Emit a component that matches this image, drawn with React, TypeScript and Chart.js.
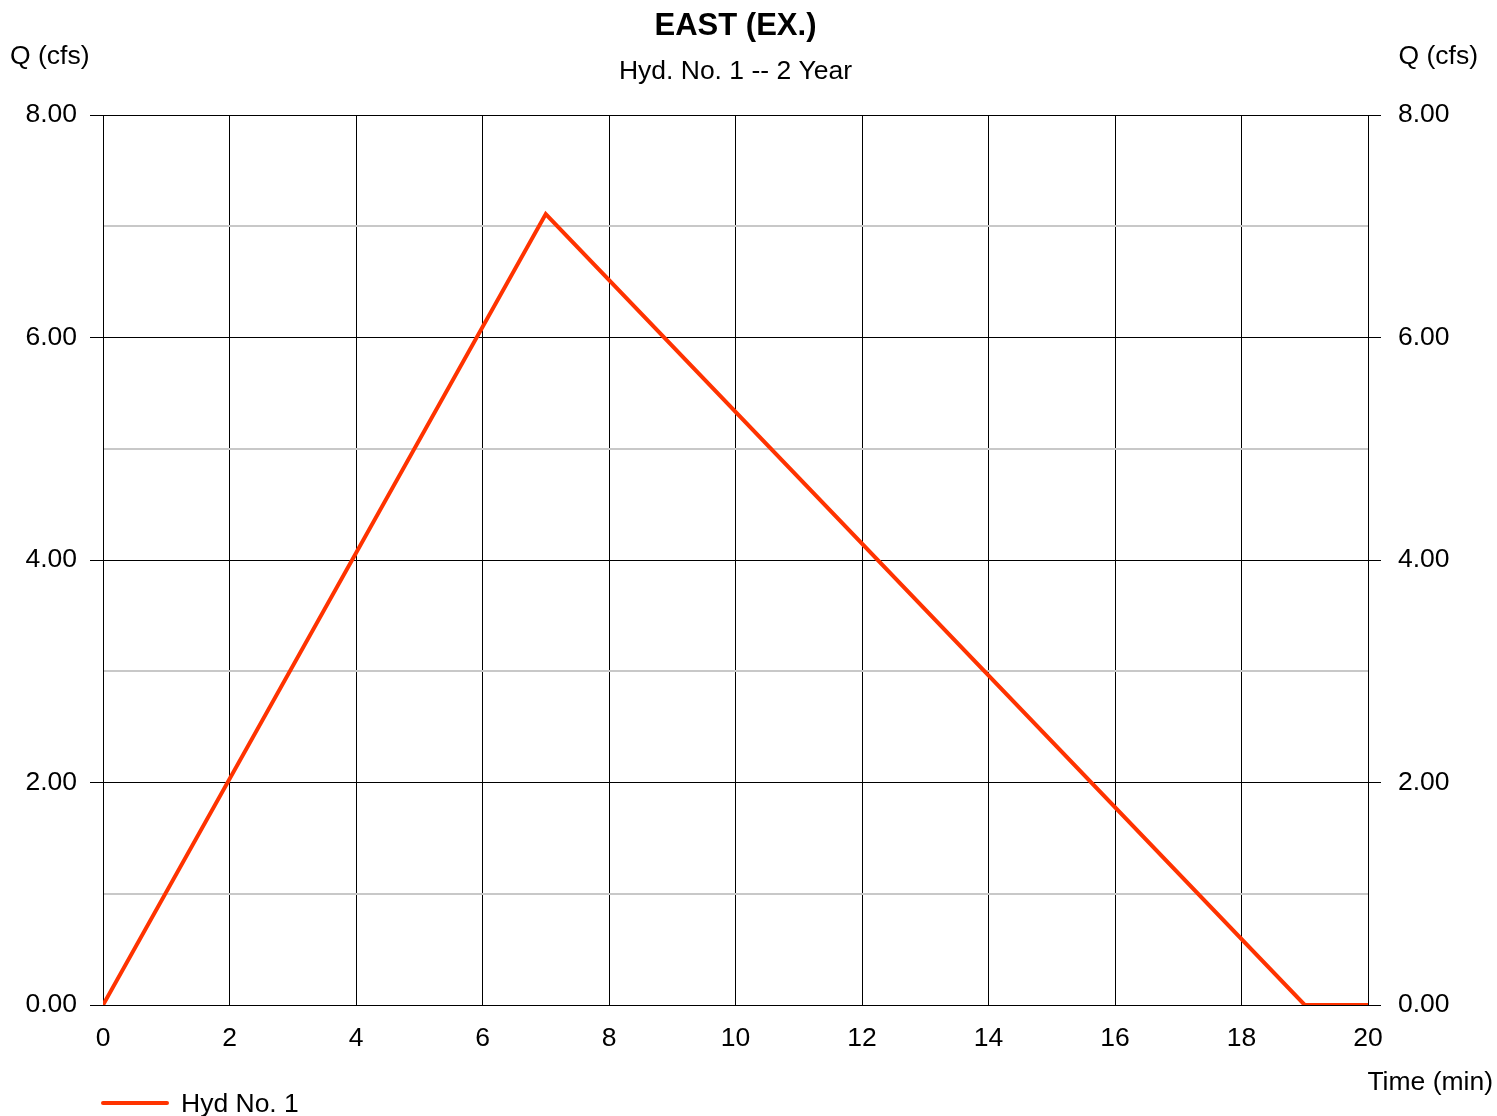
import React, { useEffect, useRef } from "react";
import { Chart, registerables } from "chart.js";

Chart.register(...registerables);

const timeMin = [0, 7, 19, 20];
const flowCfs = [0, 7.11, 0, 0];
const chartTitle = "EAST (EX.)";
const chartSubtitle = "Hyd. No. 1 -- 2 Year";
const yAxisLabel = "Q (cfs)";
const xAxisLabel = "Time (min)";
const seriesLabel = "Hyd No. 1";
const seriesColor = "#ff3300";

const FONT = "'Liberation Sans', Arial, sans-serif";
const FS = 26.5;

export default function App() {
  const ref = useRef<HTMLCanvasElement>(null);

  useEffect(() => {
    if (!ref.current) return;
    const textPlugin = {
      id: "texts",
      afterDraw(chart: any) {
        const ctx = chart.ctx;
        const ca = chart.chartArea;
        ctx.save();
        ctx.fillStyle = "#000";
        ctx.textBaseline = "middle";
        ctx.textAlign = "center";
        const cx = (ca.left + ca.right) / 2;
        ctx.font = `bold 31px ${FONT}`;
        ctx.fillText(chartTitle, cx, 26);
        ctx.font = `${FS}px ${FONT}`;
        ctx.fillText(chartSubtitle, cx, 72);
        ctx.textAlign = "left";
        ctx.fillText(yAxisLabel, 10, 57);
        ctx.textAlign = "right";
        ctx.fillText(yAxisLabel, 1478, 57);
        ctx.fillText(xAxisLabel, 1493, 1083);
        // legend
        const ds = chart.data.datasets[0];
        ctx.strokeStyle = ds.borderColor;
        ctx.lineWidth = 4;
        ctx.lineCap = "round";
        ctx.beginPath();
        ctx.moveTo(103, 1103);
        ctx.lineTo(167, 1103);
        ctx.stroke();
        ctx.textAlign = "left";
        ctx.fillText(ds.label, 181, 1105);
        ctx.restore();
      },
    };

    const chart = new Chart(ref.current, {
      type: "line",
      data: {
        datasets: [
          {
            label: seriesLabel,
            data: timeMin.map((t, i) => ({ x: t, y: flowCfs[i] })),
            borderColor: seriesColor,
            backgroundColor: seriesColor,
            borderWidth: 4,
            pointRadius: 0,
            tension: 0,
            fill: false,
            yAxisID: "y",
          },
        ],
      },
      options: {
        responsive: false,
        animation: false,
        devicePixelRatio: 1,
        layout: { padding: { top: 115, left: 0, right: 0, bottom: 0 } },
        plugins: {
          legend: { display: false },
          title: { display: false },
          tooltip: { enabled: false },
        },
        scales: {
          x: {
            type: "linear",
            min: 0,
            max: 20,
            afterFit(scale: any) {
              scale.height = 111;
            },
            ticks: {
              stepSize: 2,
              padding: 18,
              color: "#000",
              font: { family: FONT, size: FS },
              maxRotation: 0,
            },
            grid: { color: "#000", lineWidth: 1, drawTicks: false },
            border: { display: true, color: "#000" },
          },
          y: {
            type: "linear",
            position: "left",
            min: 0,
            max: 8,
            afterFit(scale: any) {
              scale.width = 103;
            },
            ticks: {
              stepSize: 1,
              padding: 13,
              color: "#000",
              font: { family: FONT, size: FS },
              callback: (v: any) => (Number(v) % 2 === 0 ? Number(v).toFixed(2) : ""),
            },
            grid: {
              color: (c: any) => (c.tick && c.tick.value % 2 !== 0 ? "#c8c8c8" : "#000"),
              lineWidth: (c: any) => (c.tick && c.tick.value % 2 !== 0 ? 2 : 1),
              tickColor: (c: any) => (c.tick && c.tick.value % 2 !== 0 ? "rgba(0,0,0,0)" : "#000"),
              tickLength: 13,
            },
            border: { display: true, color: "#000" },
          },
          y2: {
            type: "linear",
            position: "right",
            min: 0,
            max: 8,
            afterFit(scale: any) {
              scale.width = 129;
            },
            ticks: {
              stepSize: 1,
              padding: 17,
              color: "#000",
              font: { family: FONT, size: FS },
              callback: (v: any) => (Number(v) % 2 === 0 ? Number(v).toFixed(2) : ""),
            },
            grid: {
              drawOnChartArea: false,
              tickColor: (c: any) => (c.tick && c.tick.value % 2 !== 0 ? "rgba(0,0,0,0)" : "#000"),
              tickLength: 13,
            },
            border: { display: true, color: "#000" },
          },
        },
      },
      plugins: [textPlugin],
    } as any);
    return () => chart.destroy();
  }, []);

  return (
    <div style={{ position: "absolute", left: 0, top: 0, width: 1497, height: 1116, background: "#fff" }}>
      <canvas ref={ref} width={1497} height={1116} />
    </div>
  );
}
